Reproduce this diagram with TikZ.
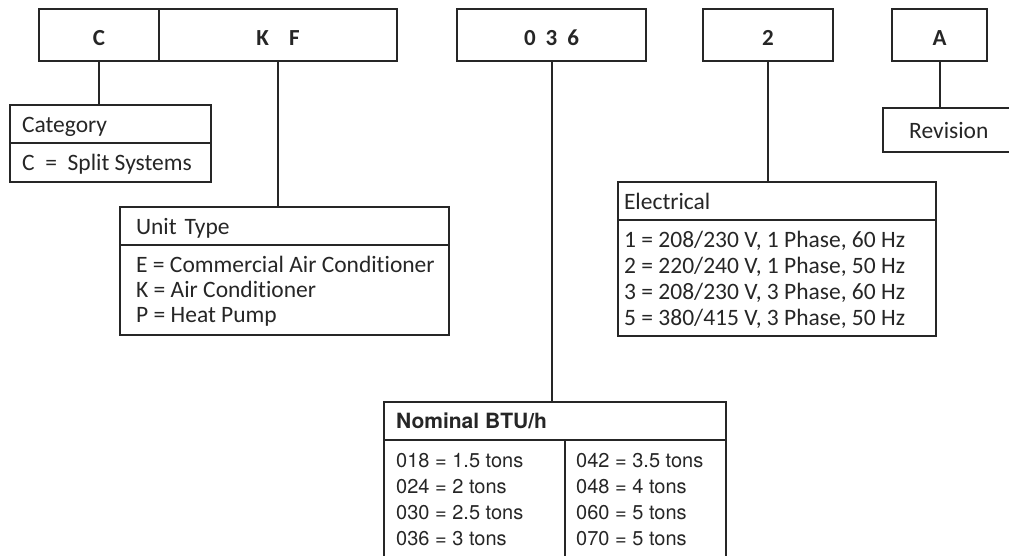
\documentclass[tikz,border=0pt]{standalone}
\usepackage{fontspec}
\setmainfont{Carlito}[Ligatures=CommonOff]
\newfontfamily\helvfont{TeX Gyre Heros}
\usepackage{xcolor}
\usetikzlibrary{positioning}
\definecolor{ink}{HTML}{262626}

\tikzset{
  codebox/.style={draw=ink, text=ink, line width=2pt, inner sep=0pt, outer sep=0pt, anchor=north west,
    minimum height=52pt, text height=20pt, text depth=0pt, font=\fontsize{23}{24}\fontseries{b}\selectfont},
  headbox/.style={draw=ink, text=ink, line width=2pt, inner sep=0pt, inner xsep=12pt, outer sep=0pt,
    anchor=north west, minimum height=38pt, align=left, text height=16pt, text depth=0pt,
    font=\fontsize{23.5}{26}\selectfont},
  bodybox/.style={draw=ink, line width=2pt, inner sep=0pt, outer sep=0pt, anchor=north west},
  entry/.style={anchor=base west, inner sep=0pt, text=ink, font=\fontsize{23.5}{26}\selectfont},
  nomentry/.style={entry, font=\helvfont\fontsize{20}{24}\selectfont},
  nomtitle/.style={entry, font=\helvfont\fontsize{21}{24}\selectfont\bfseries},
  wire/.style={draw=ink, line width=2pt},
}

\begin{document}
\begin{tikzpicture}[x=1pt, y=-1pt]
    \useasboundingbox (0,0) rectangle (1009,555);
    \clip (0,0) rectangle (1009,555);

    % Ô mã số model
    \node[codebox, minimum width=120pt] (cbox) at (39,9) {C};
    \node[codebox, minimum width=238pt] (kfbox) at (159,9) {K\hspace{20pt}F};
    \node[codebox, minimum width=189pt] (btubox) at (457,9) {0\hspace{10pt}3\hspace{10pt}6};
    \node[codebox, minimum width=130pt] (elbox) at (703,9) {2};
    \node[codebox, minimum width=95pt] (revbox) at (892,9) {A};

    % Category
    \node[headbox, text width=177pt] (cathead) at (10,105) {Category};
    \node[bodybox, minimum width=201pt, minimum height=39pt] (catbody) at (cathead.south west) {};
    \node[entry] (catc) at (22,170) {C\ \ =\ \ Split Systems};

    % Unit Type
    \node[headbox, inner xsep=16pt, text width=297pt] (unithead) at (120,207) {Unit Type};
    \node[bodybox, minimum width=329pt, minimum height=90pt] (unitbody) at (unithead.south west) {};
    \foreach \t [count=\i] in {E = Commercial Air Conditioner, K = Air Conditioner, P = Heat Pump} {
        \node[entry] (unit\i) at (136,247+25*\i) {\t};
    }

    % Electrical
    \node[headbox, inner xsep=6pt, text width=306pt] (elechead) at (618,182) {Electrical};
    \node[bodybox, minimum width=318pt, minimum height=116pt] (elecbody) at (elechead.south west) {};
    \foreach \t [count=\i] in {{1 = 208/230 V, 1 Phase, 60 Hz}, {2 = 220/240 V, 1 Phase, 50 Hz},
                               {3 = 208/230 V, 3 Phase, 60 Hz}, {5 = 380/415 V, 3 Phase, 50 Hz}} {
        \node[entry] (elec\i) at (624,221+26*\i) {\t};
    }

    % Nominal BTU/h
    \node[headbox, line width=1.3pt, minimum width=342pt] (nomhead) at (384,402) {};
    \node[nomtitle] (nomname) at (396,428) {Nominal BTU/h};
    \node[bodybox, line width=1.3pt, minimum width=342pt, minimum height=124pt] (nombody) at (nomhead.south west) {};
    \draw[ink, line width=1.3pt] (565,440) -- (565,564);
    \foreach \t [count=\i] in {018 = 1.5 tons, 024 = 2 tons, 030 = 2.5 tons, 036 = 3 tons} {
        \node[nomentry] (nomL\i) at (396,441+26*\i) {\t};
    }
    \foreach \t [count=\i] in {042 = 3.5 tons, 048 = 4 tons, 060 = 5 tons, 070 = 5 tons} {
        \node[nomentry] (nomR\i) at (576,441+26*\i) {\t};
    }

    % Revision
    \node[bodybox, line width=1.3pt, minimum width=135pt, minimum height=44pt] (revlabel) at (883,108) {};
    \node[entry] (revtext) at (909,138) {Revision};

    % Đường nối
    \draw[wire] (cbox.south) -- (cbox.south |- cathead.north);
    \draw[wire] (kfbox.south) -- (kfbox.south |- unithead.north);
    \draw[wire] (btubox.south) -- (btubox.south |- nomhead.north);
    \draw[wire] (elbox.south) -- (elbox.south |- elechead.north);
    \draw[wire] (revbox.south) -- (revbox.south |- revlabel.north);
\end{tikzpicture}
\end{document}
